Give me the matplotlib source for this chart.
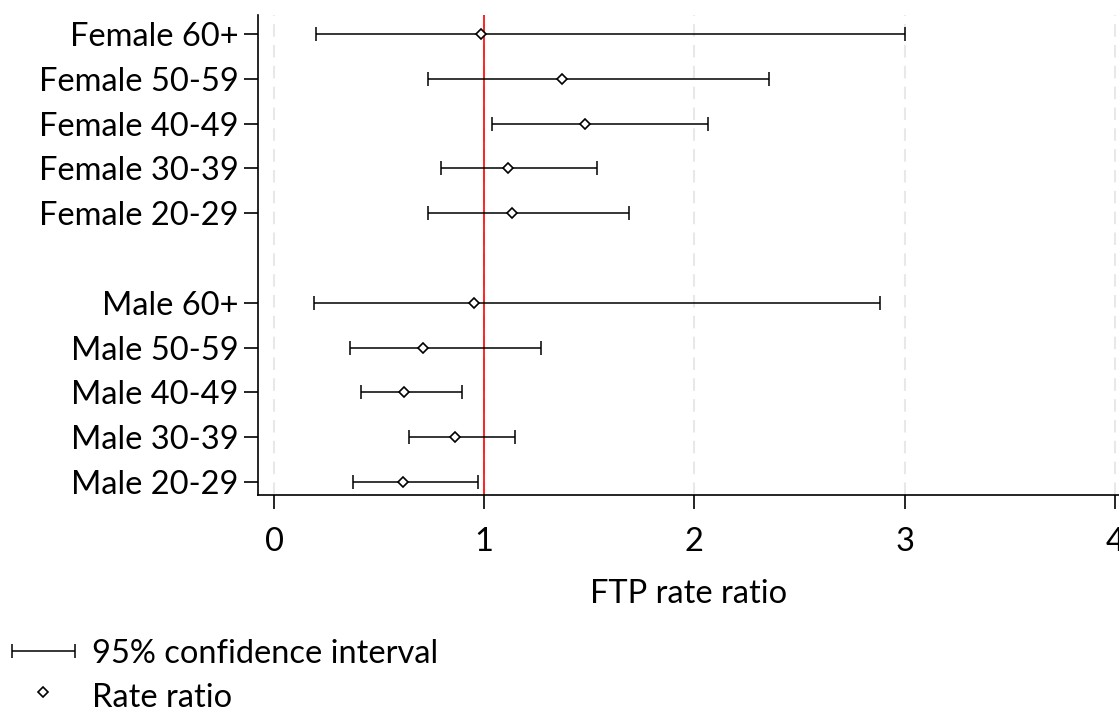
import matplotlib.pyplot as plt

plt.rcParams['font.family'] = ['Lato', 'DejaVu Sans']

labels = ['Male 20-29', 'Male 30-39', 'Male 40-49', 'Male 50-59', 'Male 60+',
          'Female 20-29', 'Female 30-39', 'Female 40-49', 'Female 50-59', 'Female 60+']
ypos = [1, 2, 3, 4, 5, 7, 8, 9, 10, 11]
ratio = [0.613, 0.862, 0.617, 0.711, 0.951, 1.130, 1.115, 1.479, 1.370, 0.987]
lower = [0.377, 0.643, 0.415, 0.360, 0.191, 0.734, 0.796, 1.038, 0.734, 0.198]
upper = [0.970, 1.147, 0.896, 1.272, 2.883, 1.689, 1.536, 2.064, 2.355, 3.000]

fig = plt.figure(figsize=(11.19, 7.11), dpi=100)
ax = fig.add_axes([0.2306, 0.3038, 0.7694, 0.675])

for x in [0, 1, 2, 3, 4]:
    ax.axvline(x, color='#e8e8e8', lw=1.5, ls=(0, (6, 4)), zorder=0)
ax.axvline(1, color='red', lw=1.2, zorder=1)

err = [[r - l for r, l in zip(ratio, lower)], [u - r for r, u in zip(ratio, upper)]]
ax.errorbar(ratio, ypos, xerr=err, fmt='none', ecolor='black', elinewidth=1.1,
            capsize=5, capthick=1.1, zorder=2)
ax.plot(ratio, ypos, ls='none', marker='D', ms=5, mfc='white', mec='black', mew=1.2, zorder=3)

ax.set_xlim(-0.076, 4.02)
ax.set_ylim(0.71, 11.42)
ax.set_xticks([0, 1, 2, 3, 4])
ax.set_yticks(ypos)
ax.set_yticklabels(labels)
ax.tick_params(axis='both', labelsize=23.5, length=10, width=1.2, color='black')
ax.tick_params(axis='x', pad=13)
ax.tick_params(axis='y', pad=4)
ax.spines['top'].set_visible(False)
ax.spines['right'].set_visible(False)
ax.spines['left'].set_linewidth(1.2)
ax.spines['bottom'].set_linewidth(1.2)
ax.set_xlabel('FTP rate ratio', fontsize=23.5, labelpad=16)

# legend drawn by hand in pixel coordinates
lg = fig.add_axes([0, 0, 1, 1], zorder=-1)
lg.set_xlim(0, 1119)
lg.set_ylim(711, 0)
lg.axis('off')
lg.errorbar([43.5], [651], xerr=[[31.5], [31.5]], fmt='none', ecolor='black',
            elinewidth=1.1, capsize=5, capthick=1.1)
lg.plot([43], [692], ls='none', marker='D', ms=5, mfc='white', mec='black', mew=1.2)
lg.text(92, 654, '95% confidence interval', fontsize=23.5, va='center', ha='left')
lg.text(92, 698, 'Rate ratio', fontsize=23.5, va='center', ha='left')

fig.savefig('out.png', dpi=100)
